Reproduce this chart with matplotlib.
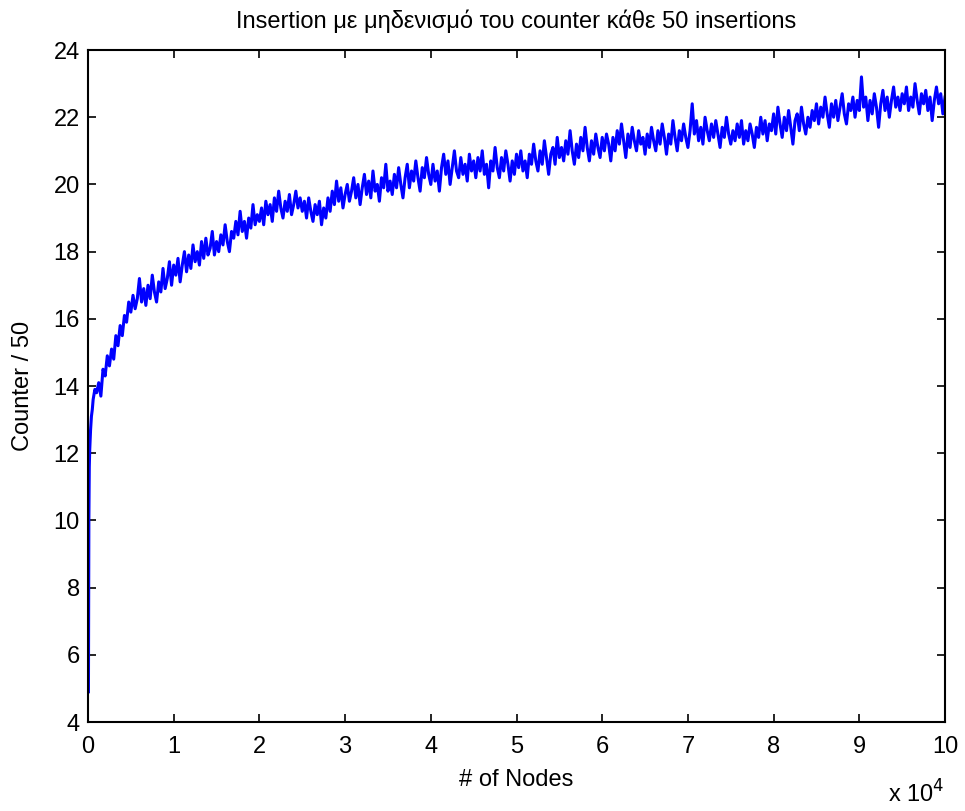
import numpy as np
import matplotlib
matplotlib.use("Agg")
import matplotlib.pyplot as plt

plt.rcParams['font.family'] = ['Liberation Sans', 'DejaVu Sans']

# first few samples, where the counter climbs fast
early_nodes = [50, 100, 150, 200, 300, 400, 500, 600, 800, 1000]
early_vals = [4.9, 10.0, 11.6, 12.1, 12.7, 13.1, 13.3, 13.6, 13.9, 13.8]

# rest of the run, one sample every 250 nodes from 1250 up to 100000
vals = [
    14.1, 13.7, 14.5, 14.3, 14.9, 14.6, 15.1, 14.8, 15.5, 15.2, 15.8, 15.5, 16.1, 15.9, 16.5, 16.2,
    16.7, 16.3, 16.6, 17.2, 16.5, 16.9, 16.4, 17.0, 16.6, 17.3, 16.8, 16.5, 17.1, 16.8, 17.5, 16.9, 17.2, 17.7, 17.0, 17.6,
    17.3, 17.8, 17.1, 17.6, 18.0, 17.4, 17.9, 17.5, 18.2, 17.7, 18.0, 17.6, 18.3, 17.8, 18.4, 17.9, 18.1, 18.6, 17.9, 18.3,
    18.0, 18.5, 18.2, 18.8, 18.3, 18.0, 18.6, 18.4, 18.9, 18.5, 19.2, 18.6, 18.9, 18.4, 19.0, 18.7, 19.4, 18.8, 19.1, 18.9,
    19.3, 18.8, 19.5, 19.1, 19.4, 18.9, 19.6, 19.2, 19.8, 19.3, 19.0, 19.5, 19.2, 19.7, 19.1, 19.4, 19.8, 19.3, 19.6, 19.2,
    19.5, 19.0, 19.6, 19.2, 18.9, 19.4, 19.1, 19.5, 18.8, 19.3, 19.0, 19.6, 19.2, 19.8, 19.4, 20.1, 19.5, 19.9, 19.3, 19.7,
    20.0, 19.5, 19.8, 20.2, 19.6, 20.0, 19.4, 19.9, 20.3, 19.7, 20.1, 19.6, 20.4, 19.8, 20.0, 19.5, 20.2, 19.9, 20.6, 19.8,
    20.1, 19.7, 20.3, 19.9, 20.5, 20.0, 19.6, 20.2, 20.6, 19.9, 20.4, 20.1, 20.7, 20.2, 19.8, 20.5, 20.2, 20.8, 20.3, 20.0,
    20.6, 20.1, 20.4, 19.8, 20.5, 20.9, 20.3, 20.7, 20.0, 20.5, 21.0, 20.4, 20.2, 20.8, 20.3, 20.6, 20.1, 20.9, 20.4, 20.7,
    20.2, 20.8, 20.4, 21.0, 20.3, 20.6, 19.9, 20.7, 20.4, 21.1, 20.5, 20.2, 20.8, 20.4, 21.0, 20.6, 20.1, 20.7, 20.3, 20.9,
    20.5, 21.0, 20.4, 20.7, 20.2, 20.9, 20.6, 21.2, 20.7, 20.4, 21.0, 20.6, 21.3, 20.8, 20.3, 20.9, 21.1, 20.6, 21.4, 20.8,
    21.1, 20.7, 21.3, 20.9, 21.6, 21.0, 20.6, 21.2, 20.8, 21.4, 21.0, 21.7, 21.1, 20.7, 21.3, 20.9, 21.5, 21.1, 20.8, 21.4,
    21.0, 21.5, 21.2, 20.7, 21.4, 21.0, 21.6, 21.2, 21.8, 21.3, 20.8, 21.5, 21.1, 21.7, 21.3, 21.0, 21.6, 21.2, 21.4, 20.9,
    21.5, 21.1, 21.7, 21.3, 21.0, 21.6, 21.2, 21.8, 21.4, 20.9, 21.5, 21.2, 21.9, 21.4, 21.0, 21.6, 21.3, 21.8, 21.4, 21.1,
    21.6, 22.4, 21.5, 21.9, 21.3, 21.7, 21.2, 22.0, 21.6, 21.3, 21.8, 21.4, 21.9, 21.5, 21.1, 21.7, 21.4, 22.0, 21.5, 21.2,
    21.6, 21.3, 21.8, 21.4, 21.9, 21.2, 21.6, 21.3, 21.8, 21.5, 21.1, 21.7, 21.4, 22.0, 21.5, 21.9, 21.3, 21.8, 21.6, 22.1,
    21.5, 22.3, 21.8, 21.4, 22.0, 21.6, 22.2, 21.7, 21.2, 21.9, 22.1, 21.6, 22.3, 21.8, 21.5, 22.0, 21.7, 22.2, 21.9, 22.4,
    21.8, 22.3, 22.0, 22.6, 22.1, 21.7, 22.4, 22.0, 22.5, 21.9, 22.3, 22.7, 22.1, 21.8, 22.4, 22.2, 22.6, 22.0, 22.5, 22.2,
    23.2, 22.3, 22.6, 21.9, 22.5, 22.1, 22.7, 22.3, 21.7, 22.4, 22.8, 22.2, 22.6, 22.0, 22.5, 22.9, 22.3, 22.6, 22.2, 22.7,
    22.4, 22.9, 22.2, 22.6, 22.3, 23.0, 22.5, 22.1, 22.7, 22.4, 22.8, 22.2, 22.6, 21.9, 22.5, 22.9, 22.4, 22.7, 22.1, 22.6,
]
nodes = list(early_nodes) + list(np.arange(1250, 100001, 250))
counter = early_vals + vals

xticks = np.arange(0, 100001, 10000)
xtick_labels = [str(i) for i in range(11)]
yticks = np.arange(4, 25, 2)

fig = plt.figure(figsize=(9.65, 8.11), dpi=100)
ax = fig.add_axes([0.0912, 0.1097, 0.8881, 0.8286])
ax.plot(nodes, counter, color='#0000ff', linewidth=2.2)

ax.set_xlim(0, 100000)
ax.set_ylim(4, 24)
ax.set_xticks(xticks)
ax.set_xticklabels(xtick_labels)
ax.set_yticks(yticks)
ax.tick_params(direction='in', length=6, width=1.2, top=True, right=True, labelsize=17)
ax.tick_params(axis='x', pad=10)
ax.tick_params(axis='y', pad=6)
for s in ax.spines.values():
    s.set_linewidth(1.5)

ax.set_title('Insertion με μηδενισμό του counter κάθε 50 insertions', fontsize=17, pad=16)
ax.set_xlabel('# of Nodes', fontsize=17, labelpad=8)
ax.set_ylabel('Counter / 50', fontsize=17, labelpad=14)
fig.text(0.979, 0.004, 'x 10$^4$', fontsize=17, ha='right', va='bottom')

fig.savefig('out.png', dpi=100)
